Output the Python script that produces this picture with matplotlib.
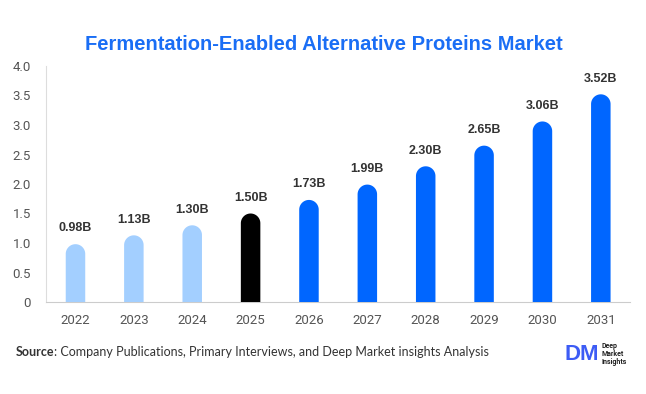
import numpy as np
import matplotlib
matplotlib.use("Agg")
import matplotlib.pyplot as plt
from matplotlib.path import Path
from matplotlib.patches import PathPatch

years = ["2022", "2023", "2024", "2025", "2026", "2027", "2028", "2029", "2030", "2031"]
values = [0.98, 1.13, 1.30, 1.50, 1.73, 1.99, 2.30, 2.65, 3.06, 3.52]
labels = ["0.98B", "1.13B", "1.30B", "1.50B", "1.73B", "1.99B", "2.30B", "2.65B", "3.06B", "3.52B"]
colors = ["#a3cfff"] * 3 + ["#000000"] + ["#0066ff"] * 6
yticks = [0, 0.5, 1.0, 1.5, 2.0, 2.5, 3.0, 3.5, 4.0]
ytick_labels = ["0", "0.5", "1.0", "1.5", "2.0", "2.5", "3.0", "3.5", "4.0"]

W, H = 646, 394
fig = plt.figure(figsize=(W / 100, H / 100), dpi=100)
ax = fig.add_axes([46.3 / W, (H - 302) / H, (630 - 46.3) / W, (302 - 66) / H])
ax.set_xlim(-0.5, 9.5)
ax.set_ylim(0, 4.0)

x = np.arange(len(years))
bar_w_px = 19.5
px_per_x = (630 - 46.3) / 10
px_per_y = (302 - 66) / 4.0
bw = bar_w_px / px_per_x
bars = ax.bar(x, values, width=bw, color=colors)

ry = (bar_w_px / 2) / px_per_y
for rect, c in zip(bars, colors):
    x0 = rect.get_x()
    w = rect.get_width()
    h = rect.get_height()
    rect.set_visible(False)
    cx = x0 + w / 2
    cy = h - ry
    t = np.linspace(np.pi, 0, 40)
    arc = np.column_stack([cx + (w / 2) * np.cos(t), cy + ry * np.sin(t)])
    verts = np.vstack([[x0, 0], [x0, cy], arc, [x0 + w, 0], [x0, 0]])
    codes = [Path.MOVETO] + [Path.LINETO] * (len(verts) - 2) + [Path.CLOSEPOLY]
    ax.add_patch(PathPatch(Path(verts, codes), facecolor=c, edgecolor="none", zorder=3))

for xi, v, lab in zip(x, values, labels):
    ax.annotate(lab, (xi, v), xytext=(0, 7), textcoords="offset points",
                ha="center", va="bottom", fontsize=9, fontweight="bold",
                color="#333333", family="Liberation Sans")

ax.set_xticks(x)
ax.set_xticklabels(years, fontsize=9.5, color="#555555", family="Roboto")
ax.set_yticks(yticks)
ax.set_yticklabels(ytick_labels, fontsize=9.5, color="#555555", family="Roboto")
ax.tick_params(axis="both", length=0)
ax.tick_params(axis="x", pad=9)
ax.tick_params(axis="y", pad=11)
for s in ["top", "right"]:
    ax.spines[s].set_visible(False)
ax.spines["left"].set_color("#dddddd")
ax.spines["bottom"].set_color("#cccccc")
ax.spines["left"].set_linewidth(0.8)
ax.spines["bottom"].set_linewidth(0.8)

fig.text(324 / W, 1 - 45 / H, "Fermentation-Enabled Alternative Proteins Market",
         ha="center", va="center", fontsize=14.5, fontweight="bold",
         color="#1a6ef5", family="Liberation Sans")

src = fig.text(16 / W, 1 - 352 / H, "Source", ha="left", va="center",
               fontsize=9, fontweight="bold", color="#333333", family="Lato")
ax.annotate(": Company Publications, Primary Interviews, and Deep Market insights Analysis",
            xy=(1, 0.5), xycoords=src, ha="left", va="center",
            fontsize=9, color="#333333", family="Lato")

fig.text(564 / W, 1 - 354 / H, "DM", ha="left", va="center", fontsize=16,
         fontweight="bold", color="#3d5cf5", family="Liberation Sans")
fig.text(602 / W, 1 - 354 / H, "Deep\nMarket\nInsights", ha="left", va="center",
         fontsize=5, fontweight="bold", color="#222222", family="Roboto", linespacing=1.05)

fig.savefig("out.png", dpi=100)
